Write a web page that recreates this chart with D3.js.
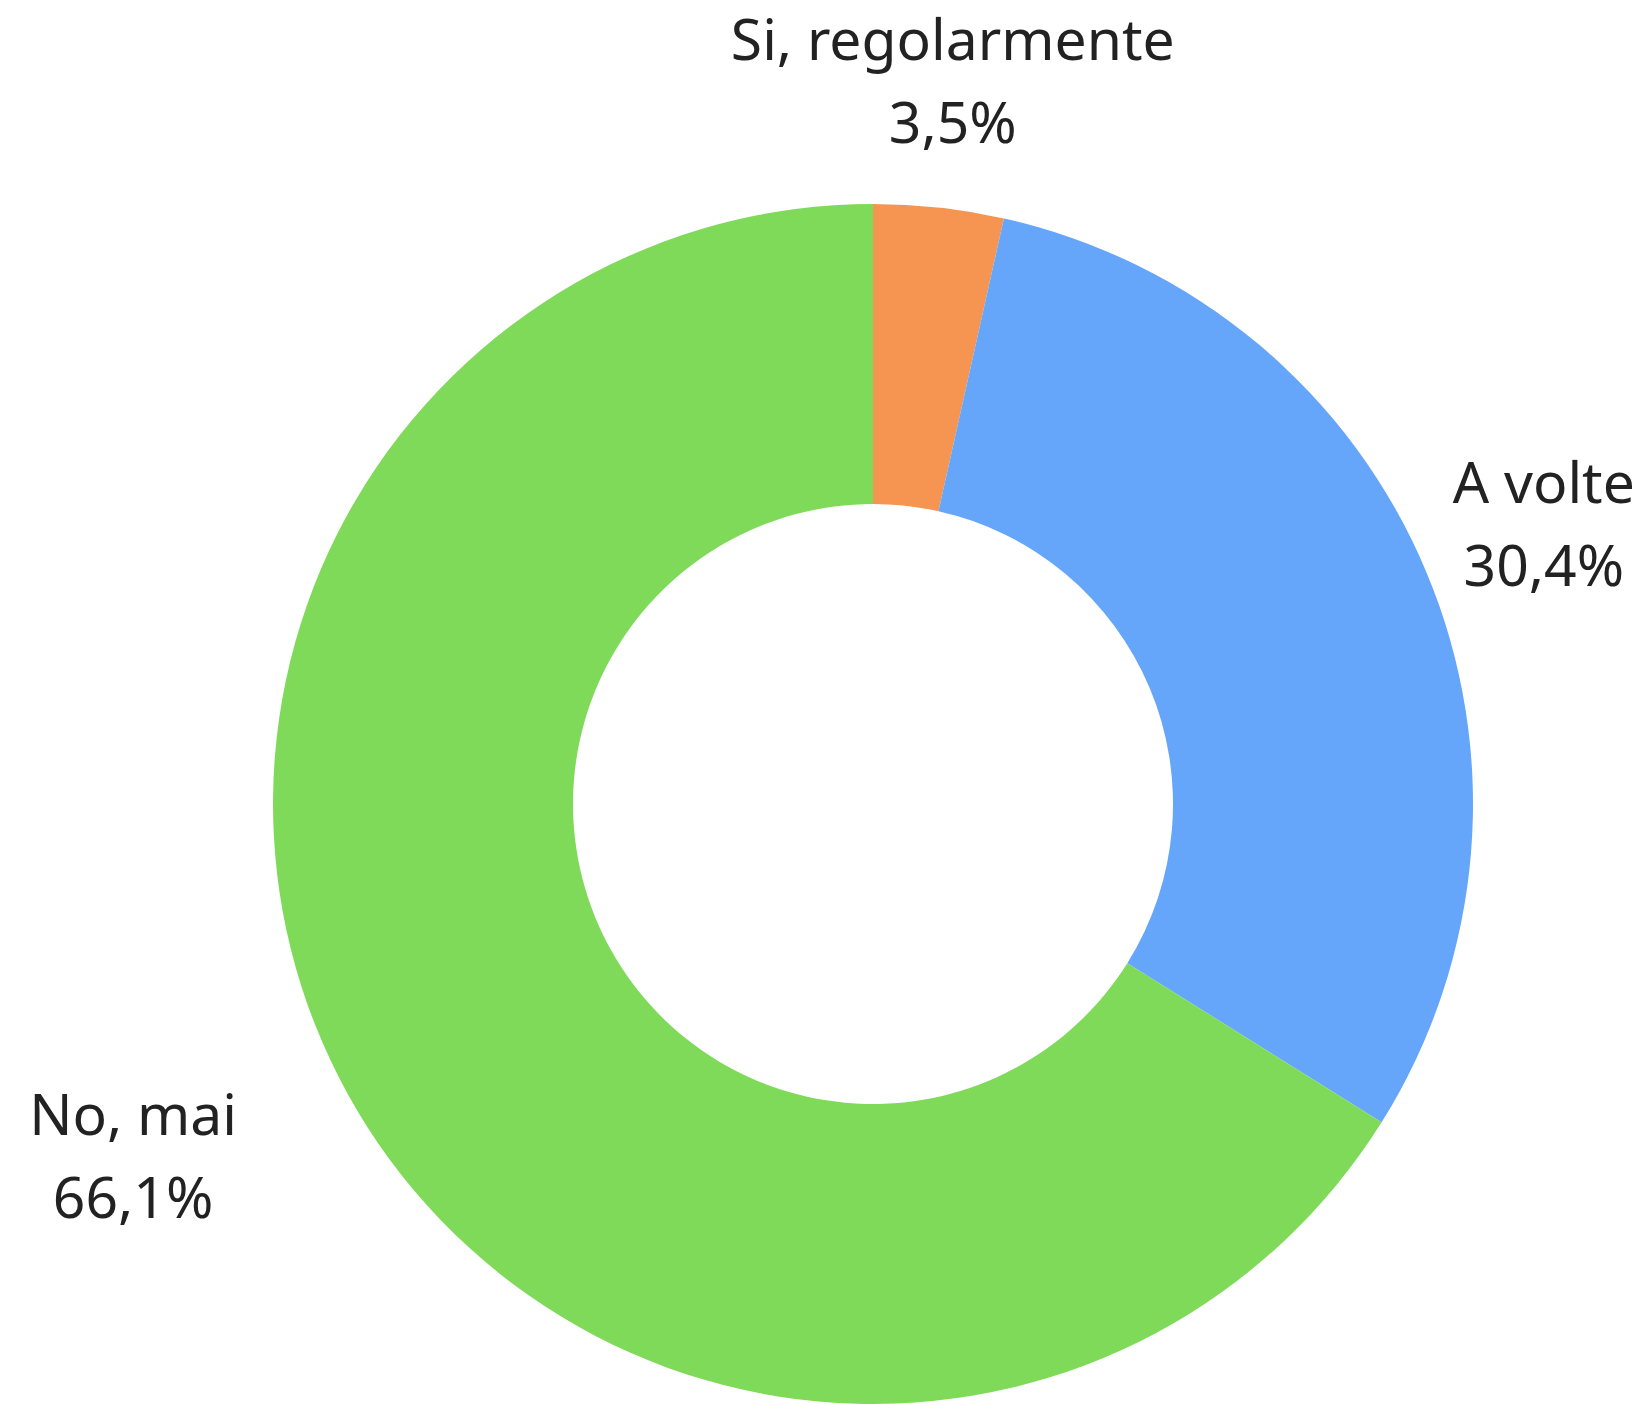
<!DOCTYPE html>
<html>
<head>
<meta charset="utf-8">
<script src="https://cdn.jsdelivr.net/npm/d3@7"></script>
<style>
  html, body { margin: 0; padding: 0; background: #fff; }
  svg { display: block; }
  .lbl { font-family: "Noto Sans", "Open Sans", sans-serif; font-size: 57px; fill: #222; }
</style>
</head>
<body>
<script>
// answers and shares (percent)
var categories = ["Si, regolarmente", "A volte", "No, mai"];
var values = [3.5, 30.4, 66.1];
var valueLabels = ["3,5%", "30,4%", "66,1%"];
var colors = ["#f69552", "#65a6fa", "#80da5a"];

var width = 1652, height = 1404;
var cx = 873, cy = 804,
    outerR = 600, innerR = 300,
    labelR = 727;

var svg = d3.select("body").append("svg")
    .attr("width", width)
    .attr("height", height);

var g = svg.append("g")
    .attr("transform", "translate(" + cx + "," + cy + ")");

var pie = d3.pie().sort(null).value(function(d) { return d; });
var arc = d3.arc().innerRadius(innerR).outerRadius(outerR);

var arcs = pie(values);

g.selectAll("path.slice")
    .data(arcs)
  .enter().append("path")
    .attr("class", "slice")
    .attr("d", arc)
    .attr("fill", function(d, i) { return colors[i]; });

// labels: centred on the mid angle, left-side ones pushed out by half their width
var labels = g.selectAll("g.label")
    .data(arcs)
  .enter().append("g")
    .attr("class", "label");

labels.append("text")
    .attr("class", "lbl")
    .attr("text-anchor", "middle")
    .attr("y", -21)
    .text(function(d, i) { return categories[i]; });

labels.append("text")
    .attr("class", "lbl")
    .attr("text-anchor", "middle")
    .attr("y", 62)
    .text(function(d, i) { return valueLabels[i]; });

labels.attr("transform", function(d) {
    var a = (d.startAngle + d.endAngle) / 2;
    var x = Math.sin(a) * labelR,
        y = -Math.cos(a) * labelR;
    if (Math.sin(a) < -0.5) {
      x -= this.getBBox().width / 2;
    }
    return "translate(" + x + "," + y + ")";
});
</script>
</body>
</html>
